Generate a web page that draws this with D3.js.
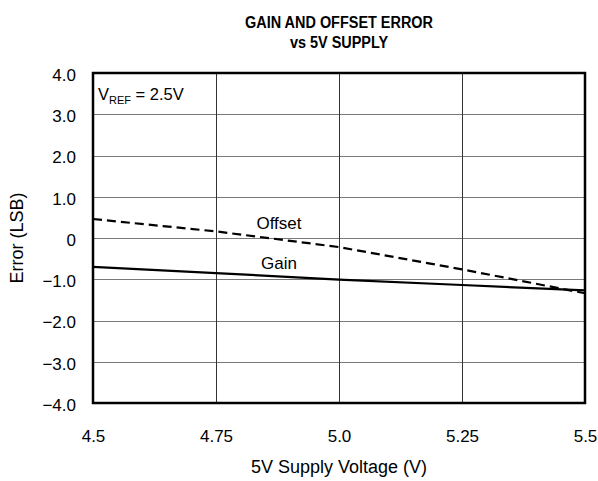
<!DOCTYPE html>
<meta charset="utf-8">
<style>
body { margin: 0; background: #fff; }
text { font-family: "Liberation Sans", Arial, sans-serif; fill: #000; }
.grid line { shape-rendering: crispEdges; }
</style>
<svg></svg>
<script src="https://d3js.org/d3.v7.min.js"></script>
<script>

// supply voltage (V)
var volts = [4.5, 4.75, 5.0, 5.25, 5.5];
// error in LSB
var gainErr = [-0.70, -0.85, -1.01, -1.14, -1.27];
var offsetErr = [0.46, 0.16, -0.22, -0.76, -1.34];

var xTicks = [4.5, 4.75, 5.0, 5.25, 5.5];
var xTickLabels = ["4.5", "4.75", "5.0", "5.25", "5.5"];
var yTicks = [4, 3, 2, 1, 0, -1, -2, -3, -4];
var yTickLabels = ["4.0", "3.0", "2.0", "1.0", "0", "\u22121.0", "\u22122.0", "\u22123.0", "\u22124.0"];

var W = 598, H = 481;
var svg = d3.select("svg").attr("width", W).attr("height", H);

// plot box (named pl/pr/pt/pb: "top" is taken by window.top)
var pl = 93, pr = 585, pt = 73, pb = 403;

var x = d3.scaleLinear().domain([4.5, 5.5]).range([pl, pr]);
var y = d3.scaleLinear().domain([-4, 4]).range([pb, pt]);

/* title - a bit condensed, like the original */
var title = svg.append("g").attr("transform", "translate(339,0) scale(0.85,1)");
title.append("text")
  .attr("x", 0).attr("y", 28)
  .attr("text-anchor", "middle")
  .style("font-size", "17px").style("font-weight", "bold")
  .text("GAIN AND OFFSET ERROR");
title.append("text")
  .attr("x", 0).attr("y", 48)
  .attr("text-anchor", "middle")
  .style("font-size", "17px").style("font-weight", "bold")
  .text("vs 5V SUPPLY");

/* grid */
var grid = svg.append("g").attr("class", "grid");
grid.selectAll("line.h")
  .data(yTicks.slice(1, -1))
  .enter().append("line")
  .attr("class", "h")
  .attr("x1", pl).attr("x2", pr)
  .attr("y1", function(d) { return Math.round(y(d)) + 0.5; })
  .attr("y2", function(d) { return Math.round(y(d)) + 0.5; })
  .attr("stroke", "#7a7a7a").attr("stroke-width", 1);
grid.selectAll("line.v")
  .data(xTicks.slice(1, -1))
  .enter().append("line")
  .attr("class", "v")
  .attr("y1", pt).attr("y2", pb)
  .attr("x1", function(d) { return Math.round(x(d)) + 0.5; })
  .attr("x2", function(d) { return Math.round(x(d)) + 0.5; })
  .attr("stroke", "#333").attr("stroke-width", 1);

/* axes (labels only) */
var xAxis = d3.axisBottom(x)
  .tickValues(xTicks)
  .tickSize(0).tickPadding(0)
  .tickFormat(function(d, i) { return xTickLabels[i]; });
var gx = svg.append("g").attr("transform", "translate(0," + (pb + 27) + ")").call(xAxis);
gx.select(".domain").remove();
gx.selectAll("text").style("font-size", "17px").attr("fill", "#000");

var yAxis = d3.axisLeft(y)
  .tickValues(yTicks)
  .tickSize(0).tickPadding(0)
  .tickFormat(function(d, i) { return yTickLabels[i]; });
var gy = svg.append("g").attr("transform", "translate(" + (pl - 17) + ",2)").call(yAxis);
gy.select(".domain").remove();
gy.selectAll("text").style("font-size", "17px").attr("fill", "#000");

/* series */
var line = d3.line()
  .x(function(d) { return x(d[0]); })
  .y(function(d) { return y(d[1]); });

svg.append("path")
  .datum(d3.zip(volts, offsetErr))
  .attr("d", line)
  .attr("fill", "none").attr("stroke", "#000")
  .attr("stroke-width", 2.2)
  .attr("stroke-dasharray", "9,5");

svg.append("path")
  .datum(d3.zip(volts, gainErr))
  .attr("d", line)
  .attr("fill", "none").attr("stroke", "#000")
  .attr("stroke-width", 2.2);

/* frame */
svg.append("rect")
  .attr("x", pl).attr("y", pt)
  .attr("width", pr - pl).attr("height", pb - pt)
  .attr("fill", "none").attr("stroke", "#000").attr("stroke-width", 2.5);

/* series labels */
svg.append("text").attr("x", 279).attr("y", 229)
  .attr("text-anchor", "middle").style("font-size", "17px").text("Offset");
svg.append("text").attr("x", 279).attr("y", 269)
  .attr("text-anchor", "middle").style("font-size", "17px").text("Gain");

/* VREF note */
var note = svg.append("text").attr("x", 98).attr("y", 100).style("font-size", "16.5px");
note.append("tspan").text("V");
note.append("tspan").attr("dy", 4).style("font-size", "11px").text("REF");
note.append("tspan").attr("dy", -4).text(" = 2.5V");

/* axis titles */
svg.append("text")
  .attr("x", (pl + pr) / 2).attr("y", 473)
  .attr("text-anchor", "middle").style("font-size", "18px")
  .text("5V Supply Voltage (V)");
svg.append("text")
  .attr("transform", "translate(23," + ((pt + pb) / 2) + ") rotate(-90)")
  .attr("text-anchor", "middle").style("font-size", "18px")
  .text("Error (LSB)");

</script>
